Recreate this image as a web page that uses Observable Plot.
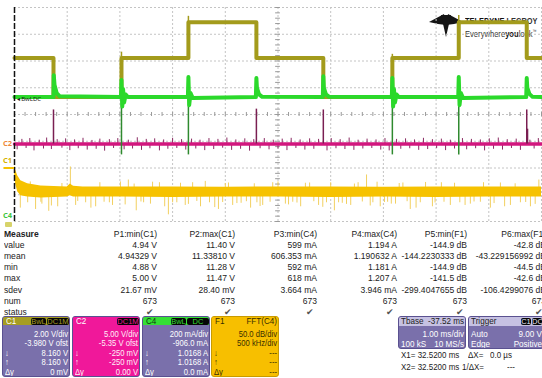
<!DOCTYPE html>
<html><head><meta charset="utf-8">
<script src="https://cdn.jsdelivr.net/npm/d3@7"></script>
<script src="https://cdn.jsdelivr.net/npm/@observablehq/plot@0.6"></script>
<style>
body{margin:0;background:#fff;}
#wrap{position:relative;width:542px;height:378px;overflow:hidden;background:#fff;font-family:"Liberation Sans",Arial,sans-serif;}
#logo{position:absolute;left:0;top:0;z-index:1}
#chart{position:absolute;left:0;top:0;z-index:2}
#panel{position:absolute;left:0;top:0;width:542px;height:378px;z-index:3}
</style></head>
<body>
<div id="wrap">
  <div id="logo">
    <svg width="36" height="26" style="position:absolute;left:429px;top:13px">
      <polygon points="0,9 15,1 17,12 9,11" fill="#151515"/>
      <polygon points="34,9 19,1 17,12 25,11" fill="#151515"/>
      <polygon points="12,2 22,2 17,24" fill="#151515"/>
    </svg>
    <div style="position:absolute;left:465px;top:15px;font-size:9.5px;line-height:11px;white-space:nowrap;transform:scaleX(0.78);transform-origin:0 50%;color:#111"><b>TELEDYNE</b> <span style="font-weight:bold;color:#333">LECROY</span></div>
    <div style="position:absolute;left:465px;top:26px;font-size:9.5px;line-height:11px;white-space:nowrap;transform:scaleX(0.8);transform-origin:0 50%;color:#333">Everywhere<b style="color:#111">you</b>look<sup style="font-size:5px">™</sup></div>
  </div>
  <div id="chart"></div>
  <div id="panel"></div>
</div>
<script>
// ---------- trace data (time in ms, level in screen divisions; centre = 0) ----------
// C1 (olive) step levels
const c1Time  = [0, 0.74, 2.03, 3.30, 4.59, 5.86, 7.17, 8.43, 9.72, 10];
const c1Level = [2.11, 0.65, 2.11, 3.45, 2.11, 0.65, 2.11, 3.45, 2.11, 2.11];
const c1SpikeTime  = [2.03, 3.30, 7.17, 8.43];
const c1SpikeLevel = [2.33, 3.67, 2.25, 3.70];

// C4 (green) current trace
const c4Time  = [0, 0.74, 0.745, 0.76, 0.80, 0.86, 2.02, 2.03, 2.045, 2.06, 2.08, 2.11, 2.15, 3.29, 3.30, 3.315, 3.34, 3.38, 4.58, 4.59, 4.60, 4.64, 4.70, 5.85, 5.86, 5.87, 5.91, 5.97, 7.16, 7.17, 7.185, 7.20, 7.22, 7.25, 7.29, 8.42, 8.43, 8.445, 8.47, 8.51, 9.71, 9.72, 9.73, 9.77, 9.83, 10];
const c4Level = [0.65, 0.65, 1.47, 1.10, 0.80, 0.68, 0.65, 1.29, 0.30, 0.95, 0.45, 0.75, 0.65, 0.65, 1.40, 0.35, 0.80, 0.62, 0.65, 1.36, 1.00, 0.75, 0.66, 0.65, 1.43, 1.00, 0.75, 0.66, 0.65, 1.36, 0.30, 0.95, 0.45, 0.75, 0.65, 0.65, 1.40, 0.35, 0.80, 0.62, 0.65, 1.36, 1.00, 0.77, 0.66, 0.65];
const c4DropTime  = [2.03, 3.30, 7.17, 8.43];
const c4DropLevel = [-1.51, -1.51, -1.51, -1.51];

// C2 (magenta) trace
const c2Time  = [0, 10];
const c2Level = [-1.10, -1.10];
const c2SpikeTime  = [0.74, 4.59, 5.86, 9.72, 9.735];
const c2SpikeLevel = [0.17, 0.20, 0.17, 0.17, -0.55];
const c2NoiseTime = [
  0.05, 0.14, 0.22, 0.29, 0.37, 0.47, 0.55, 0.61, 0.70, 0.81,
  0.90, 0.97, 1.05, 1.14, 1.21, 1.30, 1.38, 1.47, 1.55, 1.62,
  1.71, 1.80, 1.88, 1.96, 2.08, 2.16, 2.24, 2.33, 2.41, 2.50,
  2.57, 2.66, 2.75, 2.83, 2.91, 3.00, 3.08, 3.17, 3.25, 3.36,
  3.44, 3.52, 3.61, 3.69, 3.78, 3.86, 3.95, 4.03, 4.12, 4.20,
  4.29, 4.37, 4.46, 4.54, 4.66, 4.74, 4.83, 4.91, 5.00, 5.08,
  5.17, 5.25, 5.34, 5.42, 5.51, 5.60, 5.68, 5.77, 5.93, 6.01,
  6.10, 6.18, 6.27, 6.35, 6.44, 6.52, 6.61, 6.69, 6.78, 6.86,
  6.95, 7.03, 7.11, 7.25, 7.33, 7.42, 7.50, 7.59, 7.67, 7.76,
  7.84, 7.93, 8.01, 8.10, 8.18, 8.27, 8.35, 8.50, 8.58, 8.67,
  8.75, 8.84, 8.92, 9.01, 9.09, 9.18, 9.26, 9.35, 9.43, 9.52,
  9.60, 9.78, 9.86, 9.94];
const c2NoiseLevel = [
  -1.32, -0.93, -1.27, -0.90, -1.36, -0.96, -1.29, -0.88, -1.31, -0.94,
  -1.26, -0.91, -1.35, -0.95, -1.28, -0.89, -1.33, -0.97, -1.30, -0.92,
  -1.37, -0.94, -1.27, -0.90, -1.32, -0.96, -1.29, -0.87, -1.34, -0.93,
  -1.28, -0.91, -1.36, -0.95, -1.30, -0.89, -1.27, -0.94, -1.33, -0.92,
  -1.29, -0.96, -1.35, -0.90, -1.31, -0.93, -1.26, -0.88, -1.34, -0.95,
  -1.30, -0.91, -1.37, -0.94, -1.28, -0.90, -1.32, -0.96, -1.29, -0.92,
  -1.35, -0.89, -1.27, -0.95, -1.33, -0.91, -1.30, -0.93, -1.36, -0.90,
  -1.28, -0.94, -1.31, -0.88, -1.34, -0.96, -1.29, -0.92, -1.27, -0.95,
  -1.33, -0.90, -1.36, -0.93, -1.30, -0.91, -1.28, -0.95, -1.34, -0.89,
  -1.31, -0.94, -1.27, -0.92, -1.35, -0.96, -1.29, -0.90, -1.32, -0.93,
  -1.28, -0.95, -1.36, -0.91, -1.30, -0.88, -1.33, -0.94, -1.27, -0.92,
  -1.34, -0.96, -1.29, -0.90];

// F1 (FFT, yellow) band envelope
const f1Time = [0, 0.02, 0.06, 0.12, 0.25, 0.5, 1.0, 1.06, 1.12, 1.3, 2, 3, 4, 5, 6, 7, 8, 9, 10];
const f1High = [-1.92, -2.07, -2.29, -2.48, -2.59, -2.67, -2.71, -2.60, -2.68, -2.71, -2.71, -2.71, -2.72, -2.71, -2.71, -2.72, -2.71, -2.71, -2.71];
const f1Low  = [-2.15, -2.59, -2.89, -3.04, -3.08, -3.12, -3.08, -3.04, -3.08, -3.08, -3.08, -3.10, -3.08, -3.08, -3.10, -3.08, -3.10, -3.08, -3.08];
const f1SpikeTime  = [0.11, 0.25, 0.40, 0.52, 0.65, 0.82, 1.06, 1.16, 1.35, 1.54, 1.70, 1.86, 2.01, 2.16, 2.31, 2.45, 2.58, 2.75, 2.92, 3.08, 3.24, 3.38, 3.53, 3.70, 3.87, 4.00, 4.14, 4.30, 4.48, 4.60, 4.71, 4.90, 5.14, 5.28, 5.43, 5.60, 5.77, 5.92, 6.07, 6.22, 6.38, 6.52, 6.68, 6.80, 6.94, 7.08, 7.23, 7.37, 7.51, 7.70, 7.93, 8.10, 8.27, 8.45, 8.65, 8.84, 9.03, 9.22, 9.41, 9.60, 9.79, 9.95];
const f1SpikeLevel = [-3.50, -3.30, -3.55, -3.35, -3.62, -3.45, -1.96, -3.40, -3.30, -3.45, -3.28, -3.40, -2.52, -2.45, -3.60, -3.30, -3.35, -2.55, -3.75, -3.30, -3.40, -2.55, -3.45, -3.30, -3.55, -2.58, -3.40, -3.32, -3.50, -3.30, -3.40, -2.55, -3.35, -3.28, -3.45, -2.56, -3.40, -3.30, -3.60, -3.32, -3.40, -2.55, -2.26, -3.30, -3.45, -3.28, -3.35, -2.56, -3.55, -3.30, -3.45, -2.55, -3.40, -3.30, -3.35, -3.28, -3.50, -2.56, -3.40, -3.30, -3.45, -2.45];
const f1GrassTime = [
  0.30, 0.50, 0.70, 0.90, 1.20, 1.45, 1.62, 1.80, 2.10, 2.27,
  2.40, 2.62, 2.85, 3.00, 3.15, 3.30, 3.46, 3.62, 3.80, 3.95,
  4.06, 4.22, 4.40, 4.55, 4.66, 4.85, 5.00, 5.20, 5.36, 5.52,
  5.68, 5.85, 6.00, 6.15, 6.30, 6.45, 6.60, 6.75, 6.88, 7.02,
  7.15, 7.30, 7.45, 7.62, 7.80, 7.98, 8.15, 8.35, 8.55, 8.72,
  8.90, 9.10, 9.30, 9.50, 9.70, 9.88];
const f1GrassLevel = [
  -2.52, -3.28, -3.42, -2.58, -3.25, -3.50, -2.55, -3.30, -3.38, -2.60,
  -3.27, -2.53, -3.45, -3.30, -2.57, -3.36, -3.25, -2.50, -3.48, -3.29,
  -2.56, -3.33, -3.26, -2.59, -3.44, -3.28, -2.52, -3.38, -3.31, -2.57,
  -3.26, -3.47, -2.55, -3.30, -3.36, -2.60, -3.27, -3.42, -2.53, -3.29,
  -3.35, -2.58, -3.26, -3.50, -2.54, -3.31, -3.28, -2.57, -3.40, -3.27,
  -2.55, -3.33, -3.45, -2.59, -3.29, -3.36];

// left-edge channel markers
const markerText  = ["C2", "C1", "C4"];
const markerLevel = [-1.07, -1.73, -3.78];
const markerColor = ["#ee8a3a", "#d6b200", "#3fc63f"];

// ---------- measurement table ----------
const rowNames  = ["value", "mean", "min", "max", "sdev", "num", "status"];
const paramName = ["P1:min(C1)", "P2:max(C1)", "P3:min(C4)", "P4:max(C4)", "P5:min(F1)", "P6:max(F1)"];
const pValue = ["4.94 V", "11.40 V", "599 mA", "1.194 A", "-144.9 dB", "-42.8 dB"];
const pMean  = ["4.94329 V", "11.33810 V", "606.353 mA", "1.190632 A", "-144.2230333 dB", "-43.229156992 dB"];
const pMin   = ["4.88 V", "11.28 V", "592 mA", "1.181 A", "-144.9 dB", "-44.5 dB"];
const pMax   = ["5.00 V", "11.47 V", "618 mA", "1.207 A", "-141.5 dB", "-42.6 dB"];
const pSdev  = ["21.67 mV", "28.40 mV", "3.664 mA", "3.946 mA", "-299.4047655 dB", "-106.4299076 dB"];
const pNum   = ["673", "673", "673", "673", "673", "673"];
const pStatus = ["✔", "✔", "✔", "✔", "✔", "✔"];

// ---------- channel descriptor boxes ----------
const chName   = ["C1", "C2", "C4", "F1"];
const chTags   = [["BwL", "DC1M"], ["DC1M"], ["BwL", "DC"], []];
const chHeadRight = ["", "", "", "FFT(C4)"];
const chLines  = [
  ["2.00 V/div", "-3.980 V ofst", "8.160 V", "8.160 V", "0 mV"],
  ["5.00 V/div", "-5.35 V ofst", "-250 mV", "-250 mV", "0.00 V"],
  ["200 mA/div", "-906.0 mA", "1.0168 A", "1.0168 A", "0.0 mA"],
  ["50.0 dB/div", "500 kHz/div", "---", "---", "---"]
];
const chSymbols = ["", "", "↓", "↑", "Δy"];
const chHeadColor = ["#a69d22", "#f0189a", "#35df35", "#f7bf00"];
const chBodyColor = ["#7a70ab", "#f0189a", "#7a70ab", "#f7bf00"];
const chTextColor = ["#ffffff", "#fff0f8", "#ffffff", "#3a2e00"];
const chHeadText  = ["#ffffff", "#ffffff", "#123312", "#3a2e00"];

const tbaseHead = ["Tbase", "-37.52 ms"];
const tbaseRows = [["", "1.00 ms/div"], ["100 kS", "10 MS/s"]];
const trigTags  = ["C1", "DC"];
const trigRows  = [["Auto", "9.00 V"], ["Edge", "Positive"]];
const cursorRows = [["X1=  32.5200 ms", "ΔX=", "0.0 µs"], ["X2=  32.5200 ms", "1/ΔX=", "---"]];

// ---------- build plot ----------
const gridX = d3.range(0, 11, 1);
const gridY = d3.range(-4, 5, 1);
const minorX = d3.range(0, 10.001, 0.2);
const minorY = d3.range(-4, 4.001, 0.2);

const c1 = c1Time.map((t, i) => ({t, v: c1Level[i]}));
const c1s = c1SpikeTime.map((t, i) => ({t, v: c1SpikeLevel[i]}));
const c4 = c4Time.map((t, i) => ({t, v: c4Level[i]}));
const c4d = c4DropTime.map((t, i) => ({t, v: c4DropLevel[i]}));
const c2 = c2Time.map((t, i) => ({t, v: c2Level[i]}));
const c2s = c2SpikeTime.map((t, i) => ({t, v: c2SpikeLevel[i]}));
const c2n = c2NoiseTime.map((t, i) => ({t, v: c2NoiseLevel[i]}));
const f1 = f1Time.map((t, i) => ({t, hi: f1High[i], lo: f1Low[i]}));
const f1s = f1SpikeTime.map((t, i) => ({t, v: f1SpikeLevel[i]}))
  .concat(f1GrassTime.map((t, i) => ({t, v: f1GrassLevel[i]})));
const marks = markerText.map((s, i) => ({s, v: markerLevel[i], c: markerColor[i]}));

const plot = Plot.plot({
  width: 542, height: 226,
  marginLeft: 14, marginRight: 1, marginTop: 7, marginBottom: 5,
  x: {domain: [0, 10], axis: null},
  y: {domain: [-4, 4], axis: null},
  style: {background: "transparent", overflow: "visible"},
  marks: [
    Plot.ruleX(gridX, {stroke: "#c4c4c4", strokeDasharray: "2,2"}),
    Plot.ruleY(gridY, {stroke: "#c4c4c4", strokeDasharray: "2,2"}),
    Plot.ruleX(minorX, {x: d => d, y1: -0.075, y2: 0.075, stroke: "#9a9a9a"}),
    Plot.ruleY(minorY, {y: d => d, x1: 4.955, x2: 5.045, stroke: "#9a9a9a"}),
    // F1 FFT
    Plot.ruleX(f1s, {x: "t", y1: d => d.v < -3 ? -3.0 : -2.75, y2: "v", stroke: "#f2d060", strokeWidth: 1}),
    Plot.areaY(f1, {x: "t", y1: "lo", y2: "hi", fill: "#f6c200"}),
    // C2 magenta
    Plot.ruleX(c2n, {x: "t", y1: -1.10, y2: "v", stroke: "#8a2a62", strokeWidth: 1}),
    Plot.line(c2, {x: "t", y: "v", stroke: "#d2167e", strokeWidth: 3.5}),
    Plot.ruleX(c2s, {x: "t", y1: -1.10, y2: "v", stroke: "#7a1f52", strokeWidth: 1.5}),
    // C1 olive
    Plot.line(c1, {x: "t", y: "v", curve: "step-after", stroke: "#a39b1c", strokeWidth: 4}),
    Plot.ruleX(c1s, {x: "t", y1: d => d.v > 3 ? 3.45 : 2.11, y2: "v", stroke: "#a39b1c", strokeWidth: 1.5}),
    // C4 green
    Plot.ruleX(c4d, {x: "t", y1: 0.65, y2: "v", stroke: "#2f8a2f", strokeWidth: 1.5}),
    Plot.line(c4, {x: "t", y: "v", stroke: "#2bd92b", strokeWidth: 4}),
    Plot.text(["◂ BwLDC"], {x: 0.04, y: 0.58, text: d => d, textAnchor: "start", fontSize: 6, fill: "#1a1a1a"}),
    // left dashed edge and channel markers
    Plot.ruleX([0], {stroke: "#111", strokeWidth: 1.5, strokeDasharray: "6,2"}),
    Plot.ruleY([-2.0], {x1: -0.2, x2: 0, stroke: "#f6c200", strokeWidth: 2}),
    Plot.text(marks, {x: 0, y: "v", text: "s", dx: -7, fill: "c", fontSize: 7.5, fontWeight: "bold"})
  ]
});
document.getElementById("chart").appendChild(plot);

// ---------- panel text ----------
const panel = document.getElementById("panel");
function txt(parent, s, x, y, o = {}) {
  const d = document.createElement("div");
  d.textContent = s;
  const size = o.size || 9.5, sx = o.sx || 0.9;
  d.style.cssText = `position:absolute;white-space:nowrap;left:${x}px;top:${y - 6}px;line-height:12px;font-size:${size}px;color:${o.color || "#222"};font-weight:${o.bold ? "bold" : "normal"};transform-origin:${o.right ? "100%" : "0"} 50%;transform:${o.right ? "translateX(-100%) " : ""}scaleX(${sx});`;
  parent.appendChild(d);
  return d;
}
function tag(parent, s, x, y, w, color) {
  const d = document.createElement("div");
  d.textContent = s;
  d.style.cssText = `position:absolute;left:${x}px;top:${y}px;width:${w}px;height:7px;line-height:7.5px;background:#050505;color:${color};font-size:7.5px;text-align:center;border-radius:2px;overflow:hidden;white-space:nowrap;`;
  parent.appendChild(d);
}

// measure icon
const icon = document.createElement("div");
icon.style.cssText = "position:absolute;left:5px;top:222px;width:7px;height:5px;background:#d7d36a;border-radius:1px";
panel.appendChild(icon);

const colRight = [157, 235, 317, 397, 467, 546];
const rowY0 = 234, rowStep = 11.1;
txt(panel, "Measure", 4, rowY0, {bold: true});
const rowsData = [pValue, pMean, pMin, pMax, pSdev, pNum, pStatus];
rowNames.forEach((r, i) => txt(panel, r, 4, rowY0 + (i + 1) * rowStep));
paramName.forEach((p, j) => {
  txt(panel, p, colRight[j], rowY0, {right: true});
  rowsData.forEach((arr, i) => {
    if (i === 6) txt(panel, arr[j], colRight[j] - 3, rowY0 + (i + 1) * rowStep, {right: true, color: "#555", sx: 1, size: 9});
    else txt(panel, arr[j], colRight[j], rowY0 + (i + 1) * rowStep, {right: true});
  });
});

// channel boxes
const boxLeft = [2, 72, 142, 211];
chName.forEach((c, k) => {
  const b = document.createElement("div");
  b.style.cssText = `position:absolute;left:${boxLeft[k]}px;top:316px;width:68px;height:61px;background:${chBodyColor[k]};border:1px solid ${k === 3 ? "#c99a00" : "#5a5190"};box-sizing:border-box;border-radius:3px;overflow:hidden;`;
  panel.appendChild(b);
  const h = document.createElement("div");
  h.style.cssText = `position:absolute;left:0;top:0;width:68px;height:8px;background:${chHeadColor[k]};`;
  b.appendChild(h);
  txt(b, c, 3, 3.5, {color: chHeadText[k], size: 9});
  const tags = chTags[k];
  if (tags.length === 2) {
    tag(b, tags[0], 28, 0.5, 15, chHeadColor[k]);
    tag(b, tags[1], 44, 0.5, 22, chHeadColor[k]);
  } else if (tags.length === 1) {
    tag(b, tags[0], 44, 0.5, 22, chHeadColor[k]);
  }
  if (chHeadRight[k]) txt(b, chHeadRight[k], 65, 3.5, {right: true, color: chHeadText[k], size: 9});
  chLines[k].forEach((s, i) => {
    txt(b, s, 65, 16.5 + i * 9.6, {right: true, color: chTextColor[k], size: 9, sx: 0.85});
    if (chSymbols[i]) txt(b, chSymbols[i], 2, 16.5 + i * 9.6, {color: chTextColor[k], size: 8.5, sx: 0.9});
  });
});

// timebase and trigger boxes
function smallBox(x, w, headLeft, headRight, tagsList, rows) {
  const b = document.createElement("div");
  b.style.cssText = `position:absolute;left:${x}px;top:316px;width:${w}px;height:33px;background:#7a70ab;border:1px solid #5a5190;box-sizing:border-box;border-radius:3px;overflow:hidden;`;
  panel.appendChild(b);
  const h = document.createElement("div");
  h.style.cssText = `position:absolute;left:0;top:0;width:${w}px;height:9px;background:#c6c1e2;`;
  b.appendChild(h);
  txt(b, headLeft, 2, 4, {size: 9, color: "#222"});
  if (headRight) txt(b, headRight, w - 3, 4, {right: true, size: 9, color: "#222"});
  tagsList.forEach((t, i) => tag(b, t, w - 24 + i * 11, 1, 10, "#e8e6f6"));
  rows.forEach((r, i) => {
    if (r[0]) txt(b, r[0], 2, 16.5 + i * 10, {color: "#fff", size: 9});
    txt(b, r[1], w - 3, 16.5 + i * 10, {right: true, color: "#fff", size: 9});
  });
}
smallBox(398, 68, tbaseHead[0], tbaseHead[1], [], tbaseRows);
smallBox(468, 76, "Trigger", "", trigTags, trigRows);

cursorRows.forEach((r, i) => {
  const y = 355 + i * 12;
  txt(panel, r[0], 401, y, {size: 9.5, sx: 0.84});
  txt(panel, r[1], i === 0 ? 468 : 462, y, {size: 9.5, sx: 0.84});
  txt(panel, r[2], i === 0 ? 490 : 507, y, {size: 9.5, sx: 0.84});
});
</script>
</body></html>
